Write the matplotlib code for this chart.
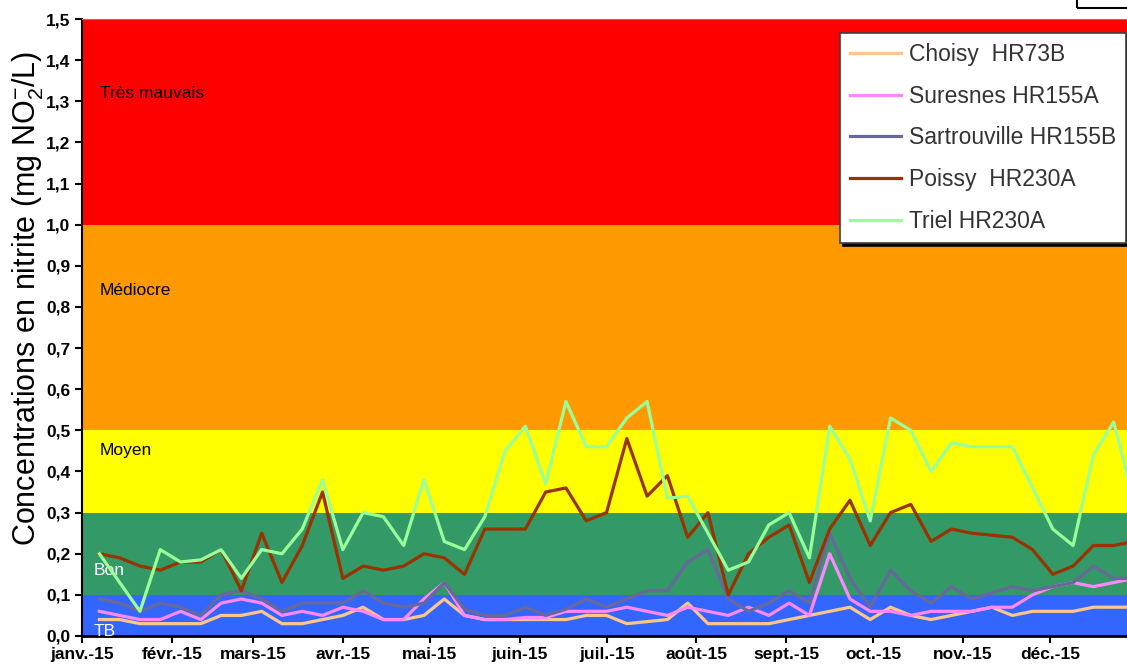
import pandas as pd
import matplotlib
matplotlib.use('Agg')
from matplotlib import pyplot as plt
from matplotlib.patches import Rectangle

plt.rcParams['font.family'] = ['Liberation Sans', 'DejaVu Sans']
plt.rcParams['mathtext.fontset'] = 'custom'
plt.rcParams['mathtext.rm'] = 'Liberation Sans'

# weekly sampling, 2015
dates = pd.date_range('2015-01-07', periods=52, freq='7D')

choisy = [0.04, 0.04, 0.03, 0.03, 0.03, 0.03, 0.05, 0.05, 0.06, 0.03,
          0.03, 0.04, 0.05, 0.07, 0.04, 0.04, 0.05, 0.09, 0.05, 0.04,
          0.04, 0.04, 0.04, 0.04, 0.05, 0.05, 0.03, 0.035, 0.04, 0.08,
          0.03, 0.03, 0.03, 0.03, 0.04, 0.05, 0.06, 0.07, 0.04, 0.07,
          0.05, 0.04, 0.05, 0.06, 0.07, 0.05, 0.06, 0.06, 0.06, 0.07,
          0.07, 0.07]
suresnes = [0.06, 0.05, 0.04, 0.04, 0.06, 0.04, 0.08, 0.09, 0.08, 0.05,
            0.06, 0.05, 0.07, 0.06, 0.04, 0.04, 0.09, 0.13, 0.05, 0.04,
            0.04, 0.045, 0.045, 0.06, 0.06, 0.06, 0.07, 0.06, 0.05, 0.07,
            0.06, 0.05, 0.07, 0.05, 0.08, 0.05, 0.20, 0.09, 0.06, 0.06,
            0.05, 0.06, 0.06, 0.06, 0.07, 0.07, 0.10, 0.12, 0.13, 0.12,
            0.13, 0.14]
sartrouville = [0.09, 0.08, 0.06, 0.08, 0.07, 0.05, 0.10, 0.11, 0.09, 0.06,
                0.08, 0.08, 0.08, 0.11, 0.08, 0.07, 0.08, 0.13, 0.065, 0.05,
                0.05, 0.07, 0.05, 0.065, 0.09, 0.07, 0.09, 0.11, 0.11, 0.18,
                0.21, 0.09, 0.06, 0.08, 0.11, 0.08, 0.25, 0.14, 0.07, 0.16,
                0.11, 0.08, 0.12, 0.09, 0.105, 0.12, 0.11, 0.12, 0.13, 0.17,
                0.14, 0.14]
poissy = [0.20, 0.19, 0.17, 0.16, 0.18, 0.18, 0.21, 0.11, 0.25, 0.13,
          0.22, 0.35, 0.14, 0.17, 0.16, 0.17, 0.20, 0.19, 0.15, 0.26,
          0.26, 0.26, 0.35, 0.36, 0.28, 0.30, 0.48, 0.34, 0.39, 0.24,
          0.30, 0.10, 0.20, 0.24, 0.27, 0.13, 0.26, 0.33, 0.22, 0.30,
          0.32, 0.23, 0.26, 0.25, 0.245, 0.24, 0.21, 0.15, 0.17, 0.22,
          0.22, 0.23]
triel = [0.20, 0.13, 0.06, 0.21, 0.18, 0.185, 0.21, 0.14, 0.21, 0.20,
         0.26, 0.38, 0.21, 0.30, 0.29, 0.22, 0.38, 0.23, 0.21, 0.29,
         0.45, 0.51, 0.37, 0.57, 0.46, 0.46, 0.53, 0.57, 0.335, 0.34,
         0.25, 0.16, 0.18, 0.27, 0.30, 0.19, 0.51, 0.43, 0.28, 0.53,
         0.50, 0.40, 0.47, 0.46, 0.46, 0.46, 0.36, 0.26, 0.22, 0.44,
         0.52, 0.33]

series = [('Choisy  HR73B', choisy, '#FFC58A'),
          ('Suresnes HR155A', suresnes, '#FF88FF'),
          ('Sartrouville HR155B', sartrouville, '#66699A'),
          ('Poissy  HR230A', poissy, '#993300'),
          ('Triel HR230A', triel, '#99FF99')]

bands = [(0.0, 0.1, '#3366FF'), (0.1, 0.3, '#339966'), (0.3, 0.5, '#FFFF00'),
         (0.5, 1.0, '#FF9900'), (1.0, 1.5, '#FF0000')]
band_labels = [('Très mauvais', 1.32, 'black', 0.017), ('Médiocre', 0.84, 'black', 0.017),
               ('Moyen', 0.45, 'black', 0.017), ('Bon', 0.16, 'white', 0.011),
               ('TB', 0.012, 'white', 0.011)]

yticks = [i / 10 for i in range(16)]
ytick_labels = ['%d,%d' % (i // 10, i % 10) for i in range(16)]
month_labels = ['janv.-15', 'févr.-15', 'mars-15', 'avr.-15', 'mai-15', 'juin-15',
                'juil.-15', 'août-15', 'sept.-15', 'oct.-15', 'nov.-15', 'déc.-15']

fig = plt.figure(figsize=(11.27, 6.66), dpi=100)
ax = fig.add_axes([82 / 1127, 30 / 666, 1 - 82 / 1127, 617 / 666])

for lo, hi, c in bands:
    ax.axhspan(lo, hi, color=c, lw=0, zorder=0)
for txt, yv, c, xf in band_labels:
    ax.text(xf, yv, txt, color=c, fontsize=12.5, va='center', ha='left',
            transform=ax.get_yaxis_transform())

for name, vals, c in series:
    ax.plot(dates, vals, color=c, lw=2.3, label=name, zorder=3)

ax.set_ylim(0, 1.5)
start = pd.Timestamp('2015-01-01')
ax.set_xlim(start, start + pd.Timedelta(days=360.6))
ax.set_yticks(yticks)
ax.set_yticklabels(ytick_labels, fontweight='bold', fontsize=12.5)
ax.set_xticks(pd.date_range('2015-01-01', periods=12, freq='MS'))
ax.set_xticklabels(month_labels, fontweight='bold', fontsize=12.5)
ax.tick_params(axis='both', direction='out', length=5, width=1.5, color='black')
ax.tick_params(axis='x', pad=3)
ax.spines['top'].set_color('#808080')
ax.spines['right'].set_visible(False)
ax.spines['left'].set_linewidth(1.5)
ax.spines['bottom'].set_linewidth(2)
ax.set_ylabel(r'Concentrations en nitrite (mg NO$_2^{\mathregular{-}}$/L)', fontsize=22)
ax.yaxis.set_label_coords(-0.034, 0.548)

leg = ax.legend(loc='upper left', bbox_to_anchor=(840 / 1127, 1 - 33 / 666),
                bbox_transform=fig.transFigure, fontsize=16.5, frameon=True,
                fancybox=False, shadow={'color': 'black', 'alpha': 1},
                borderaxespad=0, handlelength=2.2, labelspacing=0.81,
                borderpad=0.45, handletextpad=0.35)
leg.get_frame().set_edgecolor('#404040')
leg.get_frame().set_linewidth(1.2)
for t in leg.get_texts():
    t.set_color('#333333')

fig.patches.append(Rectangle((1077 / 1127, 1 - 8 / 666), 0.06, 0.05, fill=False,
                             lw=1.5, edgecolor='black', transform=fig.transFigure))

fig.savefig('out.png', dpi=100)
